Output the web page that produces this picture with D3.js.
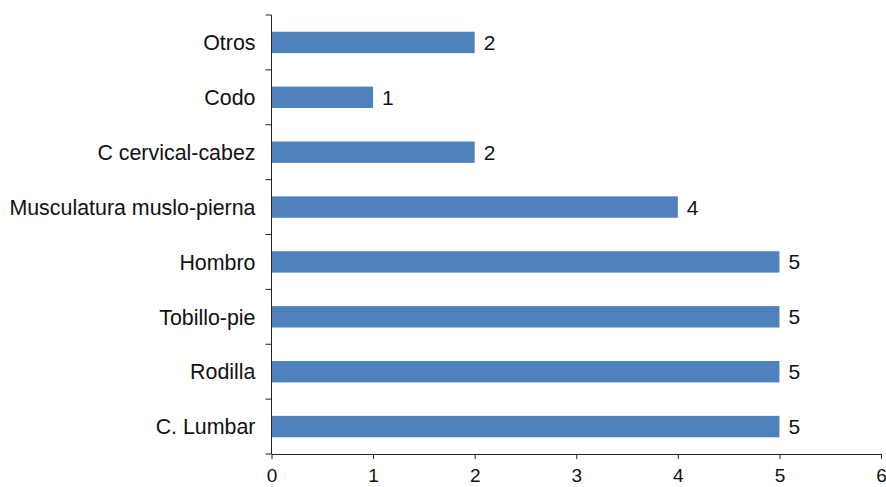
<!DOCTYPE html>
<html>
<head>
<meta charset="utf-8">
<script src="https://cdn.jsdelivr.net/npm/d3@7"></script>
<style>
  body { margin: 0; background: #fff; }
  text { font-family: "Liberation Sans", Arial, sans-serif; fill: #111; }
</style>
</head>
<body>
<div id="chart"></div>
<script>
var categories = ["Otros", "Codo", "C cervical-cabez", "Musculatura muslo-pierna",
  "Hombro", "Tobillo-pie", "Rodilla", "C. Lumbar"];
var values = [2, 1, 2, 4, 5, 5, 5, 5];
var xTicks = [0, 1, 2, 3, 4, 5, 6];

var width = 886,
  height = 487;
var margin = {top: 15, right: 5, bottom: 33, left: 271.5};

var svg = d3.select("#chart")
  .append("svg")
  .attr("width", width)
  .attr("height", height);

var x = d3.scaleLinear()
  .domain([0, 6])
  .range([margin.left, 881]);

var y = d3.scaleBand()
  .domain(categories)
  .range([margin.top, height - margin.bottom])
  .paddingInner(0.61)
  .paddingOuter(0.305);

// bars
svg.selectAll("rect.bar")
  .data(values)
  .enter().append("rect")
  .attr("class", "bar")
  .attr("x", x(0))
  .attr("y", function(d, i) { return y(categories[i]); })
  .attr("width", function(d) { return x(d) - x(0); })
  .attr("height", y.bandwidth())
  .style("fill", "#4f81bd");

// value labels
svg.selectAll("text.val")
  .data(values)
  .enter().append("text")
  .attr("class", "val")
  .attr("x", function(d) { return x(d) + 9; })
  .attr("y", function(d, i) { return y(categories[i]) + y.bandwidth() / 2; })
  .attr("dy", "0.36em")
  .style("font-size", "21px")
  .text(function(d) { return d; });

// x axis
var xAxis = svg.append("g")
  .attr("transform", "translate(0," + (height - margin.bottom) + ")")
  .call(d3.axisBottom(x).tickValues(xTicks).tickFormat(d3.format("d"))
    .tickSize(5).tickPadding(10).tickSizeOuter(0));
xAxis.selectAll("text").style("font-size", "19px");

// y axis: ticks on the band boundaries
var step = y.step();
var bounds = d3.range(categories.length + 1).map(function(i) { return margin.top + i * step; });
var yg = svg.append("g");
yg.append("line")
  .attr("x1", x(0)).attr("x2", x(0))
  .attr("y1", margin.top).attr("y2", height - margin.bottom)
  .style("stroke", "#222");
yg.selectAll("line.tick")
  .data(bounds)
  .enter().append("line")
  .attr("class", "tick")
  .attr("x1", x(0) - 6).attr("x2", x(0))
  .attr("y1", function(d) { return d; })
  .attr("y2", function(d) { return d; })
  .style("stroke", "#222");
yg.selectAll("text")
  .data(categories)
  .enter().append("text")
  .attr("x", x(0) - 16)
  .attr("y", function(d) { return y(d) + y.bandwidth() / 2; })
  .attr("dy", "0.36em")
  .attr("text-anchor", "end")
  .style("font-size", "21.4px")
  .text(function(d) { return d; });

svg.selectAll(".domain, .tick line").style("stroke", "#222");
</script>
</body>
</html>
